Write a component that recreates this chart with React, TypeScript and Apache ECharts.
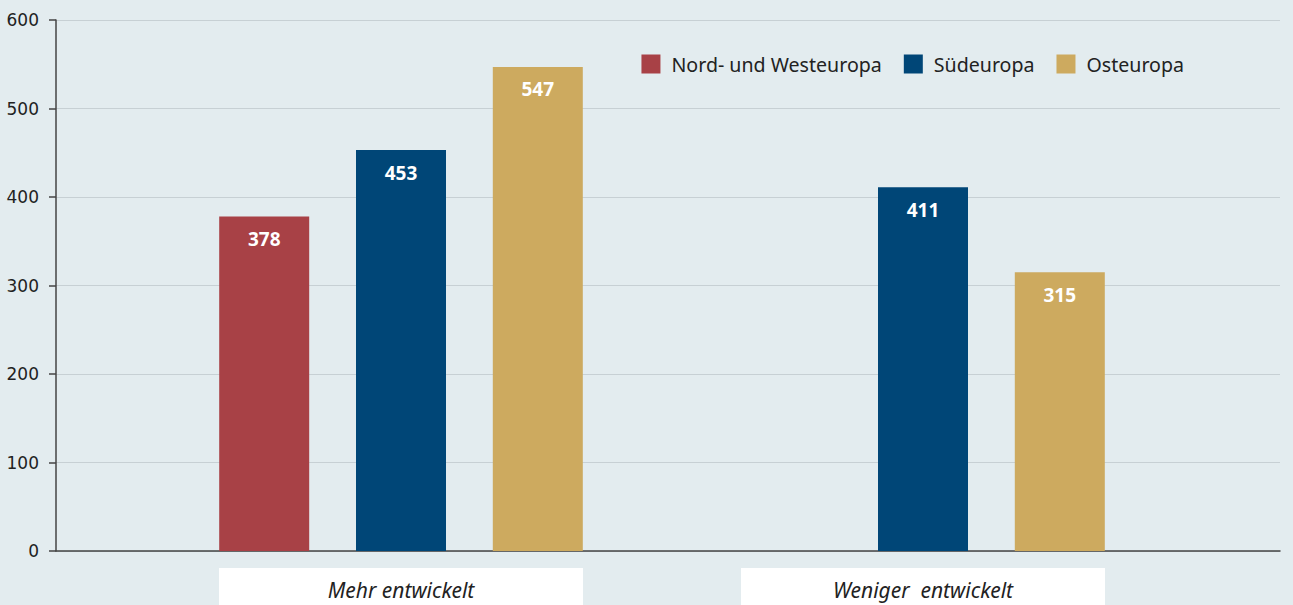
import React, { useEffect, useRef } from "react";
import * as echarts from "echarts";

const categories = ["Mehr entwickelt", "Weniger  entwickelt"];
const seriesNames = ["Nord- und Westeuropa", "Südeuropa", "Osteuropa"];
const nordWest: (number | null)[] = [378, null];
const sued: (number | null)[] = [453, 411];
const ost: (number | null)[] = [547, 315];
const yTicks = [0, 100, 200, 300, 400, 500, 600];

const colors = ["#a84146", "#004677", "#cdaa5f"];

export default function App() {
  const ref = useRef<HTMLDivElement>(null);
  useEffect(() => {
    if (!ref.current) return;
    const chart = echarts.init(ref.current, undefined, { renderer: "svg" });
    const font = "'Noto Sans', sans-serif";
    const mk = (name: string, data: (number | null)[], i: number) => ({
      name,
      type: "bar",
      xAxisIndex: 1,
      yAxisIndex: 1,
      data,
      barWidth: 90,
      barGap: "52%",
      itemStyle: { color: colors[i] },
      label: {
        show: true,
        position: "insideTop",
        distance: 13,
        color: "#ffffff",
        fontFamily: font,
        fontWeight: "bold",
        fontSize: 19,
      },
    });
    chart.setOption({
      animation: false,
      backgroundColor: "#e3ecef",
      textStyle: { fontFamily: font },
      legend: {
        data: seriesNames,
        right: 104,
        top: 49,
        itemWidth: 19,
        itemHeight: 19,
        itemGap: 22,
        icon: "rect",
        textStyle: { fontSize: 19.6, color: "#222", fontFamily: font, padding: [0, 0, 0, 6] },
      },
      grid: [
        { left: 56, right: 13, top: 20, bottom: 54, containLabel: false, outerBoundsMode: "none" },
        { left: 140, width: 1044, top: 20, bottom: 54, containLabel: false, outerBoundsMode: "none" },
      ],
      xAxis: [
        {
          type: "value",
          gridIndex: 0,
          min: 0,
          max: 1,
          axisLine: { show: true, lineStyle: { color: "#444", width: 1.5 } },
          axisTick: { show: false },
          axisLabel: { show: false },
          splitLine: { show: false },
        },
        {
          type: "category",
          gridIndex: 1,
          data: categories,
          axisLine: { show: false },
          axisTick: { show: false },
          axisLabel: {
            margin: 17,
            fontSize: 21,
            fontStyle: "italic",
            color: "#222",
            fontFamily: font,
            backgroundColor: "#ffffff",
            width: 364,
            align: "center",
            verticalAlign: "top",
            lineHeight: 28,
            padding: [8, 0, 12, 0],
          },
        },
      ],
      yAxis: [
        {
          type: "value",
          gridIndex: 0,
          min: yTicks[0],
          max: yTicks[yTicks.length - 1],
          interval: 100,
          axisLine: { show: true, lineStyle: { color: "#444", width: 1.5 } },
          axisTick: { show: true, length: 7, lineStyle: { color: "#444", width: 1.5 } },
          axisLabel: { fontSize: 17, color: "#222", margin: 17, fontFamily: "'DejaVu Sans', sans-serif" },
          splitLine: { show: true, lineStyle: { color: "#c7d0d4", width: 1 } },
        },
        {
          type: "value",
          gridIndex: 1,
          min: 0,
          max: 600,
          interval: 100,
          show: false,
          splitLine: { show: false },
        },
      ],
      series: [mk(seriesNames[0], nordWest, 0), mk(seriesNames[1], sued, 1), mk(seriesNames[2], ost, 2)],
    });
    return () => chart.dispose();
  }, []);
  return (
    <div
      ref={ref}
      style={{ width: 1293, height: 605, position: "absolute", left: 0, top: 0 }}
    />
  );
}
